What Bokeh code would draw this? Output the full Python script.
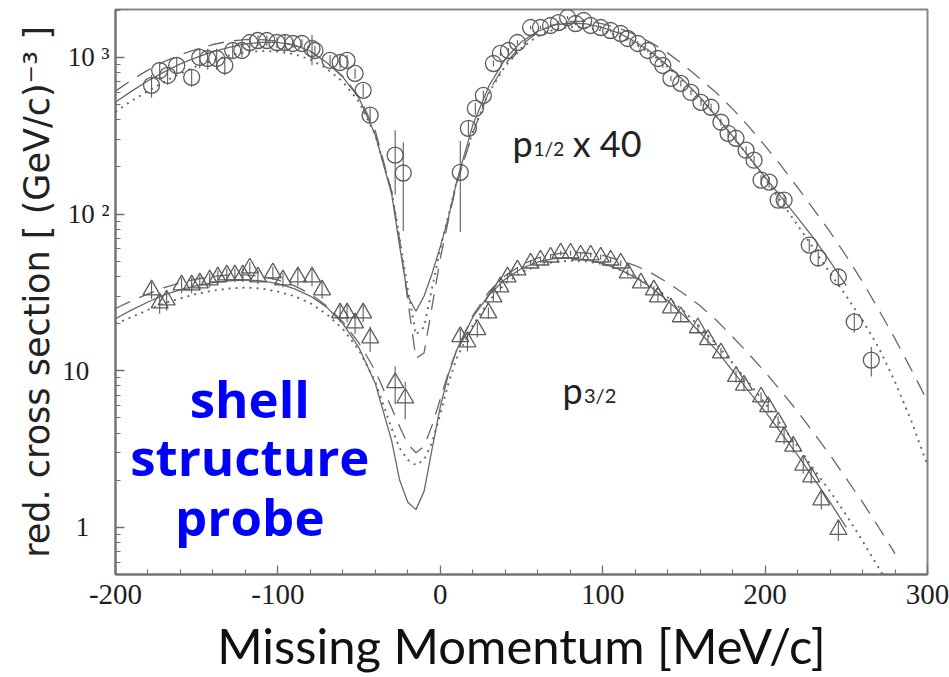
from bokeh.plotting import figure
from bokeh.models import Range1d, FixedTicker, Label, ColumnDataSource
from bokeh.embed import file_html
from bokeh.resources import INLINE

# ---------------- data ----------------
x_ticks = [-200, -100, 0, 100, 200, 300]
x_tick_labels = {-200: "-200", -100: "-100", 0: "0", 100: "100", 200: "200", 300: "300"}
x_minor_ticks = list(range(-200, 301, 20))
y_ticks = [1, 10, 100, 1000]
y_minor_ticks = [0.6, 0.7, 0.8, 0.9, 2, 3, 4, 5, 6, 7, 8, 9,
                 20, 30, 40, 50, 60, 70, 80, 90,
                 200, 300, 400, 500, 600, 700, 800, 900, 2000]
y_tick_labels = {1: "1\u00a0\u00a0\u00a0", 10: "10\u00a0\u00a0\u00a0",
                 100: "10\u00a0\u00b2", 1000: "10\u00a0\u00b3"}

# p1/2 (x40) data: missing momentum, reduced cross section, error
p12_x = [-177.8, -172.8, -167.9, -162.3, -153.1, -148.1, -143.2, -137.7, -132.7, -127.8,
         -122.2, -117.3, -112.3, -106.8, -100.6, -95.7, -90.7, -85.2, -79.0, -77.2,
         -67.9, -61.7, -57.4, -52.5, -47.5, -43.2, -27.8, -22.8, 12.3, 17.3,
         21.6, 26.5, 32.7, 37.0, 42.0, 47.5, 55.6, 61.7, 67.9, 72.8,
         78.4, 83.3, 88.3, 92.6, 98.8, 104.9, 111.1, 115.4, 121.6, 127.8,
         134.0, 137.0, 142.0, 148.1, 154.3, 160.5, 166.7, 172.8, 177.2, 182.1,
         188.3, 193.2, 197.5, 202.5, 208.0, 211.7, 227.2, 232.7, 245.1, 254.9, 265.4]
p12_y = [664, 826, 768, 889, 747, 1000, 985, 985, 889, 1108,
         1108, 1246, 1283, 1283, 1246, 1246, 1228, 1228, 1141, 1108,
         957, 929, 957, 791, 617, 428, 238, 183, 185, 353,
         473, 573, 915, 1061, 1108, 1246, 1553, 1553, 1600, 1671,
         1798, 1647, 1722, 1600, 1553, 1486, 1422, 1322, 1228, 1108,
         985, 889, 735, 683, 598, 517, 481, 386, 328, 305,
         256, 221, 165, 160, 123, 123, 63.5, 52.5, 39.7, 20.5, 11.7]
p12_err = [110, 110, 100, 100, 100, 150, 150, 150, 120, 120,
           100, 100, 100, 100, 100, 150, 80, 80, 250, 80,
           80, 80, 80, 60, 60, 50, 105, 105, 108, 40,
           40, 40, 40, 40, 40, 40, 40, 40, 40, 40,
           40, 40, 40, 40, 40, 40, 40, 40, 40, 30,
           30, 30, 30, 30, 25, 25, 25, 20, 20, 20,
           15, 15, 12, 12, 10, 10, 6, 6, 5, 3, 2.5]

# p3/2 data
p32_x = [-177.8, -172.8, -168.5, -159.3, -153.1, -148.1, -142.0, -137.0, -131.5, -126.5,
         -121.6, -117.3, -112.3, -103.1, -96.9, -87.7, -79.0, -72.8, -61.7, -57.4,
         -52.5, -47.5, -43.2, -27.8, -21.6, 12.3, 16.7, 22.8, 29.6, 32.7,
         37.0, 41.4, 47.5, 55.6, 61.7, 67.9, 74.1, 80.2, 86.4, 92.6,
         98.8, 104.9, 111.1, 115.4, 123.5, 131.5, 134.0, 142.0, 148.1, 158.6,
         164.8, 172.8, 182.1, 187.0, 197.5, 201.9, 208.0, 211.7, 217.3, 223.5,
         228.4, 234.6, 245.1]
p32_y = [32.8, 27.1, 28.3, 35.3, 35.3, 36.4, 38.0, 39.7, 40.9, 40.9,
         40.9, 45.3, 39.7, 42.1, 38.0, 39.7, 39.7, 32.8, 23.4, 23.4,
         20.2, 23.4, 16.2, 8.4, 6.7, 16.5, 15.3, 18.3, 23.4, 29.6,
         34.3, 39.7, 44.0, 48.7, 50.9, 53.2, 56.4, 56.4, 54.8, 54.8,
         53.2, 50.9, 48.7, 42.1, 36.4, 32.8, 29.6, 25.2, 22.1, 18.8,
         15.8, 13.0, 9.2, 8.1, 6.8, 5.9, 4.7, 3.8, 3.3, 2.5,
         2.1, 1.5, 0.97]
p32_err = [4, 4, 4, 4, 4, 4, 4, 4, 4, 4,
           4, 4, 4, 4, 4, 5, 5, 4, 3, 3,
           3, 3, 3, 2.3, 1.8, 2, 2, 2, 2, 2,
           2, 2, 2, 2, 2, 2, 2, 2, 2, 2,
           2, 2, 2, 2, 2, 2, 2, 1.5, 1.5, 1.2,
           1.2, 1, 0.8, 0.7, 0.5, 0.5, 0.4, 0.4, 0.3, 0.3,
           0.2, 0.2, 0.15]

# theory curves, sampled on a momentum grid
curve_x = [-200, -190, -180, -170, -160, -150, -140, -130, -120, -110,
           -100, -90, -80, -70, -60, -50, -40, -30, -25, -20,
           -15, -10, -5, 0, 5, 10, 20, 30, 40, 50,
           60, 70, 80, 90, 100, 110, 120, 130, 140, 150,
           160, 170, 180, 190, 200, 210, 220, 230, 240, 250,
           260, 270, 280, 290, 300]
p12_solid = [520, 610, 710, 810, 910, 1000, 1090, 1160, 1220, 1250,
             1250, 1200, 1100, 930, 750, 550, 320, 135, 62, 30,
             24, 30, 42, 62, 95, 160, 370, 660, 980, 1260,
             1470, 1610, 1660, 1640, 1550, 1430, 1260, 1080, 890, 710,
             555, 420, 315, 232, 172, 128, 95, 70, 50, 35]
p12_dashed = [610, 720, 830, 940, 1040, 1130, 1210, 1270, 1300, 1300,
              1270, 1200, 1090, 930, 760, 560, 340, 140, 68, 28,
              12, 13, 26, 52, 92, 155, 330, 610, 910, 1200,
              1450, 1620, 1700, 1700, 1640, 1540, 1400, 1240, 1070, 895,
              730, 595, 470, 362, 273, 203, 148, 107, 77, 54,
              37, 24.5, 16, 10.2, 6.4]
p12_dotted = [450, 530, 610, 700, 790, 880, 960, 1030, 1080, 1100,
              1090, 1050, 970, 850, 700, 520, 320, 140, 70, 33,
              17, 19, 34, 60, 98, 160, 335, 600, 880, 1150,
              1370, 1510, 1570, 1550, 1480, 1370, 1220, 1050, 870, 700,
              550, 420, 315, 232, 168, 120, 85, 60, 42, 30,
              21, 14, 8.5, 4.8, 2.5]
p32_solid = [21.5, 24.5, 27.5, 30.5, 33, 35, 36.5, 37.5, 38, 37.5,
             36, 33.5, 30, 25.5, 20, 14, 8.3, 3.6, 2.0, 1.45,
             1.3, 1.7, 3.2, 5.9, 9.5, 13.5, 22, 30.5, 38.5, 45,
             49.5, 52, 52.5, 51, 48.5, 44.5, 39.5, 34, 28, 22.5,
             17.5, 13.5, 10, 7.4, 5.5, 4.0, 2.9, 2.05, 1.45, 1.0]
p32_dashed = [25, 28, 31, 34, 36.5, 38.5, 40, 41, 41, 40,
              38, 35, 31, 26, 20.5, 15, 10, 5.8, 4.4, 3.4,
              3.0, 3.3, 4.5, 6.6, 9.8, 13.5, 22.5, 32, 40.5, 47.5,
              52.5, 55.5, 57, 56.5, 54.5, 51, 47, 42, 36.5, 31,
              26, 21, 16.5, 12.8, 9.8, 7.4, 5.5, 4.0, 2.9, 2.05,
              1.45, 1.0, 0.68]
p32_dotted = [20, 22, 24.5, 27, 29, 31, 32.5, 33.5, 34, 33.5,
              32, 30, 27, 23, 18.5, 13.5, 8.5, 4.3, 3.2, 2.7,
              2.5, 2.7, 3.5, 5.3, 8.3, 12, 19.5, 28, 36, 42.5,
              47, 49.5, 50.5, 50, 48, 44.5, 40, 35, 29.5, 24,
              19, 14.8, 11.2, 8.4, 6.2, 4.5, 3.3, 2.35, 1.7, 1.2,
              0.82, 0.55, 0.37]

# ---------------- figure ----------------
GRAY = "#5c5c5c"
LINE = "#686868"

p = figure(width=949, height=677, y_axis_type="log",
           x_range=Range1d(-200, 300), y_range=Range1d(0.501, 2024),
           output_backend="svg", toolbar_location=None,
           min_border_left=115, min_border_right=22,
           min_border_top=9, min_border_bottom=103)
p.background_fill_color = "white"
p.border_fill_color = "white"
p.grid.visible = False
p.outline_line_color = "#858585"
p.outline_line_width = 2

# curves
for ys, dash, w in [(p12_solid, "solid", 1.3), (p12_dashed, "16 10", 1.3), (p12_dotted, "2 5", 1.9),
                    (p32_solid, "solid", 1.3), (p32_dashed, "16 10", 1.3), (p32_dotted, "2 5", 1.9)]:
    p.line(curve_x[:len(ys)], ys, line_color=LINE, line_width=w, line_dash=dash)

# error bars
src12 = ColumnDataSource(dict(x=p12_x, y=p12_y,
                              lo=[y - e for y, e in zip(p12_y, p12_err)],
                              hi=[y + e for y, e in zip(p12_y, p12_err)]))
src32 = ColumnDataSource(dict(x=p32_x, y=p32_y,
                              lo=[y - e for y, e in zip(p32_y, p32_err)],
                              hi=[y + e for y, e in zip(p32_y, p32_err)]))
p.segment(x0="x", y0="lo", x1="x", y1="hi", source=src12, line_color=GRAY, line_width=1.1)
p.segment(x0="x", y0="lo", x1="x", y1="hi", source=src32, line_color=GRAY, line_width=1.1)

# markers
p.scatter("x", "y", source=src12, marker="circle", size=16, fill_color=None,
          line_color=GRAY, line_width=1.3)
p.scatter("x", "y", source=src32, marker="triangle", size=17, fill_color=None,
          line_color=GRAY, line_width=1.3)

# axes
for ax in (p.xaxis[0], p.yaxis[0]):
    ax.axis_line_color = "#707070"
    ax.axis_line_width = 2
    ax.major_tick_line_color = "#707070"
    ax.minor_tick_line_color = "#707070"
    ax.major_tick_line_width = 1.3
    ax.minor_tick_line_width = 1.1
    ax.major_tick_in = 9
    ax.major_tick_out = 0
    ax.minor_tick_in = 5
    ax.minor_tick_out = 0
    ax.major_label_text_color = "#1e1e1e"
    ax.major_label_text_font = "Liberation Serif"
    ax.axis_label_text_font_style = "normal"

p.xaxis.ticker = FixedTicker(ticks=x_ticks, minor_ticks=x_minor_ticks)
p.xaxis.major_label_overrides = x_tick_labels
p.xaxis.major_label_text_font_size = "29px"
p.xaxis.major_label_standoff = 10
p.xaxis.axis_label = "Missing Momentum [MeV/c]"
p.xaxis.axis_label_text_font = "Lato"
p.xaxis.axis_label_text_font_size = "49px"
p.xaxis.axis_label_text_color = "#111111"
p.xaxis.axis_label_standoff = 9

p.yaxis.ticker = FixedTicker(ticks=y_ticks, minor_ticks=y_minor_ticks)
p.yaxis.major_label_overrides = y_tick_labels
p.yaxis.major_label_text_font_size = "27px"
p.yaxis.major_label_standoff = 6
p.yaxis.axis_label = "red. cross section [ (GeV/c)\u207b\u00b3 ]"
p.yaxis.axis_label_text_font = "DejaVu Sans"
p.yaxis.axis_label_text_font_size = "35px"
p.yaxis.axis_label_text_color = "#222222"
p.yaxis.axis_label_standoff = 2

# annotations
TXT = "#222222"
p.add_layout(Label(x=44.4, y=283, text="p", text_font="Lato", text_font_size="36px",
                   text_color=TXT, text_baseline="alphabetic"))
p.add_layout(Label(x=57.4, y=263, text="1/2", text_font="Lato", text_font_size="19px",
                   text_color=TXT, text_baseline="alphabetic"))
p.add_layout(Label(x=81.5, y=283, text="x 40", text_font="Lato", text_font_size="36px",
                   text_color=TXT, text_baseline="alphabetic"))
p.add_layout(Label(x=75.3, y=7.57, text="p", text_font="Lato", text_font_size="36px",
                   text_color=TXT, text_baseline="alphabetic"))
p.add_layout(Label(x=88.5, y=7.03, text="3/2", text_font="Lato", text_font_size="20px",
                   text_color=TXT, text_baseline="alphabetic"))

for txt, yy in [("shell", 6.73), ("structure", 2.88), ("probe", 1.19)]:
    p.add_layout(Label(x=-117.3, y=yy, text=txt, text_font="Open Sans",
                       text_font_size="51px", text_font_style="bold",
                       text_color="#0000ff", text_align="center",
                       text_baseline="alphabetic"))

open("out.html", "w").write(file_html(p, INLINE))
